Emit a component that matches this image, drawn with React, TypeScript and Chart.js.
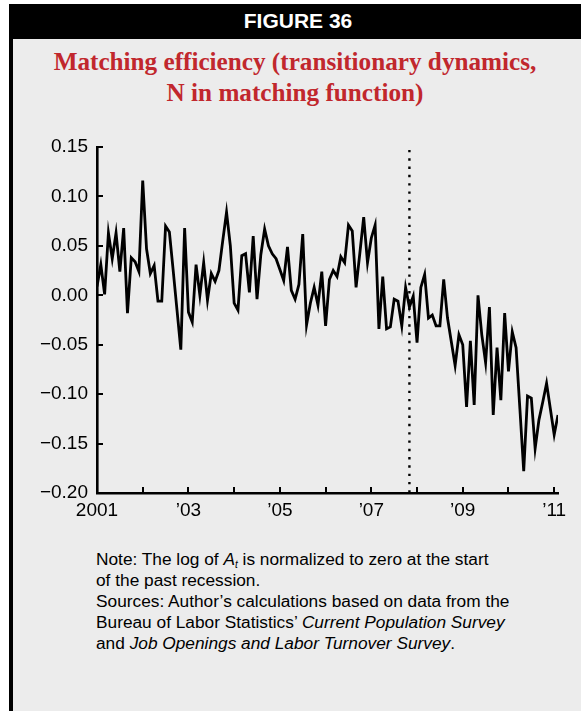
import React, { useEffect, useRef } from "react";
import { Chart, registerables } from "chart.js";

Chart.register(...registerables);

// ---- Data (monthly, Jan 2001 .. Feb 2011) ----
const START_YEAR = 2001;
const MATCHING_EFFICIENCY: number[] = [
  // 2001
  0.009, 0.031, 0.001, 0.063, 0.037, 0.063, 0.024, 0.068, -0.018, 0.038, 0.034, 0.024,
  // 2002
  0.116, 0.047, 0.022, 0.030, -0.006, -0.006, 0.070, 0.064, 0.025, -0.015, -0.055, 0.068,
  // 2003
  -0.017, -0.027, 0.031, 0.000, 0.033, -0.005, 0.022, 0.014, 0.025, 0.055, 0.084, 0.050,
  // 2004
  -0.008, -0.015, 0.040, 0.042, 0.003, 0.060, -0.004, 0.041, 0.067, 0.050, 0.042, 0.037,
  // 2005
  0.026, 0.015, 0.049, 0.005, -0.004, 0.011, 0.062, -0.030, -0.008, 0.008, -0.010, 0.024,
  // 2006
  -0.031, 0.016, 0.025, 0.019, 0.039, 0.033, 0.071, 0.065, 0.008, 0.043, 0.079, 0.033,
  // 2007
  0.058, 0.071, -0.034, 0.019, -0.034, -0.032, -0.004, -0.006, -0.031, 0.008, -0.012, -0.001,
  // 2008
  -0.048, 0.008, 0.021, -0.023, -0.020, -0.031, -0.031, 0.016, -0.023, -0.047, -0.071, -0.040,
  // 2009
  -0.050, -0.113, -0.046, -0.111, 0.000, -0.040, -0.068, -0.012, -0.121, -0.053, -0.106, -0.018,
  // 2010
  -0.077, -0.037, -0.053, -0.115, -0.178, -0.102, -0.104, -0.155, -0.126, -0.108, -0.089, -0.115,
  // 2011
  -0.141, -0.121,
];

const X_TICK_YEARS = [2001, 2002, 2003, 2004, 2005, 2006, 2007, 2008, 2009, 2010, 2011];
const X_TICK_LABELS: Record<number, string> = {
  2001: "2001",
  2003: "\u201903",
  2005: "\u201905",
  2007: "\u201907",
  2009: "\u201909",
  2011: "\u201911",
};
const Y_TICKS = [0.15, 0.1, 0.05, 0, -0.05, -0.1, -0.15, -0.2];
const Y_MIN = -0.2;
const Y_MAX = 0.15;
const X_MAX = 2011 + 1 / 12;
const RECESSION_START = 2007 + 10 / 12;
const RECESSION_TOP = 0.147;

const fmtY = (v: number) => {
  const s = Math.abs(v).toFixed(2);
  return v < -1e-9 ? "\u2212" + s : s;
};

const inwardTicks = {
  id: "inwardTicks",
  afterDatasetsDraw(chart: any) {
    const { ctx, scales, chartArea } = chart;
    const x = scales.x;
    const y = scales.y;
    ctx.save();
    ctx.strokeStyle = "#000";
    ctx.lineWidth = 2;
    x.ticks.forEach((t: any) => {
      const px = Math.round(x.getPixelForValue(t.value));
      ctx.beginPath();
      ctx.moveTo(px, chartArea.bottom);
      ctx.lineTo(px, chartArea.bottom - 6);
      ctx.stroke();
    });
    y.ticks.forEach((t: any) => {
      const py = Math.round(y.getPixelForValue(t.value));
      ctx.beginPath();
      ctx.moveTo(chartArea.left, py);
      ctx.lineTo(chartArea.left + 6, py);
      ctx.stroke();
    });
    ctx.restore();
  },
};

function ChartCanvas() {
  const ref = useRef<HTMLCanvasElement | null>(null);
  useEffect(() => {
    if (!ref.current) return;
    const series = MATCHING_EFFICIENCY.map((v, i) => ({ x: START_YEAR + i / 12, y: v }));
    const chart = new Chart(ref.current, {
      type: "line",
      data: {
        datasets: [
          {
            data: series,
            borderColor: "#000",
            borderWidth: 2.8,
            pointRadius: 0,
            tension: 0,
            fill: false,
          },
          {
            data: [
              { x: RECESSION_START, y: RECESSION_TOP },
              { x: RECESSION_START, y: Y_MIN },
            ],
            borderColor: "#000",
            borderWidth: 2.4,
            borderDash: [2.4, 5.9],
            pointRadius: 0,
            fill: false,
          },
        ],
      },
      options: {
        responsive: false,
        animation: false,
        devicePixelRatio: 1,
        layout: { padding: { top: 147, right: 23, bottom: 7, left: 0 } },
        plugins: { legend: { display: false }, tooltip: { enabled: false } },
        scales: {
          x: {
            type: "linear",
            min: START_YEAR,
            max: X_MAX,
            afterBuildTicks: (s: any) => {
              s.ticks = X_TICK_YEARS.map((v) => ({ value: v }));
            },
            afterFit: (s: any) => {
              s.height = 30;
            },
            ticks: {
              autoSkip: false,
              maxRotation: 0,
              color: "#000",
              padding: 6,
              font: { family: "'Liberation Sans', Arial, sans-serif", size: 19 },
              callback: (v: any) => X_TICK_LABELS[Math.round(Number(v))] ?? "",
            },
            grid: { display: false, drawTicks: false },
            border: { display: true, color: "#000", width: 2.6 },
          },
          y: {
            type: "linear",
            min: Y_MIN,
            max: Y_MAX,
            afterBuildTicks: (s: any) => {
              s.ticks = Y_TICKS.map((v) => ({ value: v }));
            },
            afterFit: (s: any) => {
              s.width = 97;
            },
            ticks: {
              color: "#000",
              padding: 9,
              font: { family: "'Liberation Sans', Arial, sans-serif", size: 19 },
              callback: (v: any) => fmtY(Number(v)),
            },
            grid: { display: false, drawTicks: false },
            border: { display: true, color: "#000", width: 2.6 },
          },
        },
      },
      plugins: [inwardTicks],
    });
    return () => chart.destroy();
  }, []);
  return (
    <canvas
      ref={ref}
      width={581}
      height={530}
      style={{ position: "absolute", left: 0, top: 0, width: 581, height: 530 }}
    />
  );
}

export default function App() {
  const sans = "'Liberation Sans', Arial, Helvetica, sans-serif";
  return (
    <div
      style={{
        position: "absolute",
        left: 0,
        top: 0,
        width: 581,
        height: 711,
        background: "#ffffff",
        overflow: "hidden",
      }}
    >
      <div
        style={{
          position: "absolute",
          left: 9,
          top: 4,
          width: 572,
          height: 707,
          background: "#ececec",
          borderLeft: "4px solid #000",
          boxSizing: "border-box",
        }}
      />
      <div
        style={{
          position: "absolute",
          left: 9,
          top: 4,
          width: 572,
          height: 35,
          background: "#000",
          color: "#fff",
          fontFamily: sans,
          fontWeight: 700,
          fontSize: 21,
          lineHeight: "34px",
          textAlign: "center",
          paddingLeft: 6,
          boxSizing: "border-box",
        }}
      >
        FIGURE 36
      </div>
      <div
        style={{
          position: "absolute",
          left: 9,
          top: 46,
          width: 572,
          textAlign: "center",
          fontFamily: "'Liberation Serif', 'Times New Roman', serif",
          fontWeight: 700,
          fontSize: 25.2,
          lineHeight: "31px",
          color: "#c1272d",
        }}
      >
        Matching efficiency (transitionary dynamics,
        <br />N in matching function)
      </div>
      <ChartCanvas />
      <div
        style={{
          position: "absolute",
          left: 96,
          top: 549,
          width: 485,
          fontFamily: sans,
          fontSize: 17.3,
          lineHeight: "21px",
          color: "#000",
          whiteSpace: "nowrap",
        }}
      >
        <div>
          Note: The log of <i>A</i>
          <sub style={{ fontSize: 10, fontStyle: "italic", verticalAlign: "-3px", lineHeight: 0 }}>t</sub> is
          normalized to zero at the start
        </div>
        <div>of the past recession.</div>
        <div>Sources: Author’s calculations based on data from the</div>
        <div>
          Bureau of Labor Statistics’ <i>Current Population Survey</i>
        </div>
        <div>
          and <i>Job Openings and Labor Turnover Survey</i>.
        </div>
      </div>
    </div>
  );
}
